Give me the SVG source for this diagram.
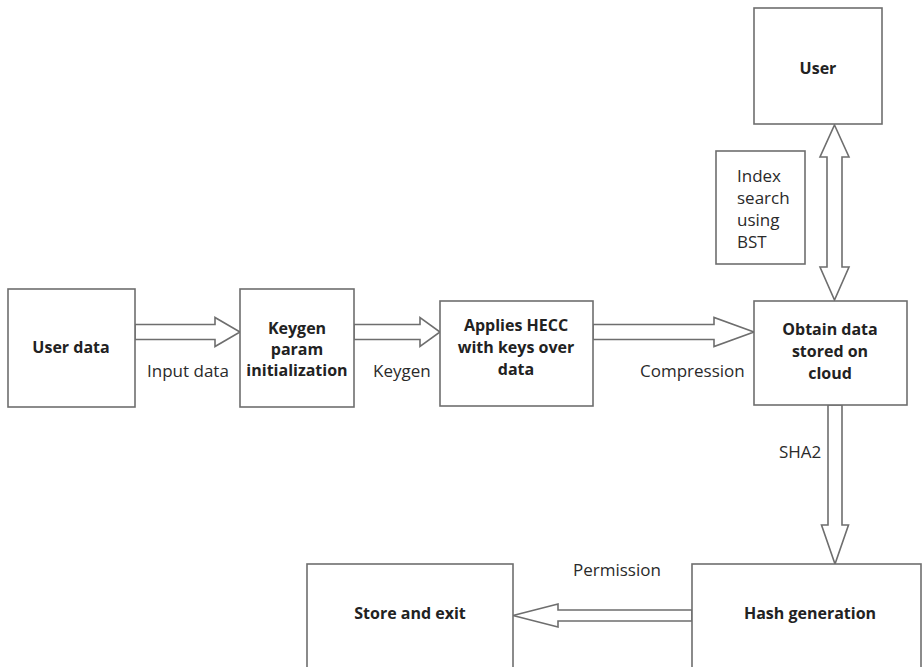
<svg xmlns="http://www.w3.org/2000/svg" width="922" height="667" viewBox="0 0 922 667">
  <style>
    .box { fill: #ffffff; stroke: #6e6e6e; stroke-width: 1.6; }
    .arrow { fill: #ffffff; stroke: #6e6e6e; stroke-width: 1.6; stroke-linejoin: miter; }
    .node { font-family: "Open Sans", "Noto Sans", sans-serif; font-size: 16px; font-weight: bold; fill: #222222; text-anchor: middle; }
    .label { font-family: "Open Sans", "Noto Sans", sans-serif; font-size: 17px; fill: #2a2a2a; }
  </style>
  <rect width="922" height="667" fill="#ffffff"/>

  <!-- connectors: hollow block arrows -->
  <g id="connectors">
    <!-- User data -> Keygen -->
    <polygon class="arrow" points="135,324.5 215,324.5 215,317.5 240,332 215,346.5 215,339.5 135,339.5"/>
    <!-- Keygen -> Applies HECC -->
    <polygon class="arrow" points="354,324.5 420,324.5 420,317.5 440,332 420,346.5 420,339.5 354,339.5"/>
    <!-- Applies HECC -> Obtain data -->
    <polygon class="arrow" points="593,324.5 714,324.5 714,317.5 754,332 714,346.5 714,339.5 593,339.5"/>
    <!-- User <-> Obtain data -->
    <polygon class="arrow" points="834.5,125 849,157 842,157 842,267 849,267 834.5,300 820,267 827,267 827,157 820,157"/>
    <!-- Obtain data -> Hash generation -->
    <polygon class="arrow" points="828,405 842,405 842,525 848.5,525 835,564 821.5,525 828,525"/>
    <!-- Hash generation -> Store and exit -->
    <polygon class="arrow" points="692,610 558,610 558,604 513,615.5 558,627 558,621 692,621"/>
    <text class="label" x="147" y="377">Input data</text>
    <text class="label" x="373" y="377">Keygen</text>
    <text class="label" x="640" y="377">Compression</text>
    <text class="label" x="779" y="458">SHA2</text>
    <text class="label" x="573" y="576">Permission</text>
  </g>

  <g id="user-data">
    <rect class="box" x="8" y="289" width="127" height="118"/>
    <text class="node" x="71" y="353">User data</text>
  </g>

  <g id="keygen">
    <rect class="box" x="240" y="289" width="114" height="118"/>
    <text class="node" x="297" y="334">Keygen</text>
    <text class="node" x="297" y="355">param</text>
    <text class="node" x="297" y="376">initialization</text>
  </g>

  <g id="applies-hecc">
    <rect class="box" x="440" y="301" width="153" height="105"/>
    <text class="node" x="516" y="331">Applies HECC</text>
    <text class="node" x="516" y="353">with keys over</text>
    <text class="node" x="516" y="375">data</text>
  </g>

  <g id="obtain-data">
    <rect class="box" x="754" y="301" width="153" height="104"/>
    <text class="node" x="830" y="335">Obtain data</text>
    <text class="node" x="830" y="357">stored on</text>
    <text class="node" x="830" y="379">cloud</text>
  </g>

  <g id="user">
    <rect class="box" x="754" y="8" width="128" height="116"/>
    <text class="node" x="818" y="74">User</text>
  </g>

  <g id="index-search">
    <rect class="box" x="716" y="151" width="89" height="113"/>
    <text class="label" x="737" y="182">Index</text>
    <text class="label" x="737" y="204">search</text>
    <text class="label" x="737" y="226">using</text>
    <text class="label" x="737" y="248">BST</text>
  </g>

  <g id="hash-generation">
    <rect class="box" x="692" y="564" width="229" height="130"/>
    <text class="node" x="810" y="619">Hash generation</text>
  </g>

  <g id="store-exit">
    <rect class="box" x="307" y="564" width="206" height="130"/>
    <text class="node" x="410" y="619">Store and exit</text>
  </g>
</svg>
